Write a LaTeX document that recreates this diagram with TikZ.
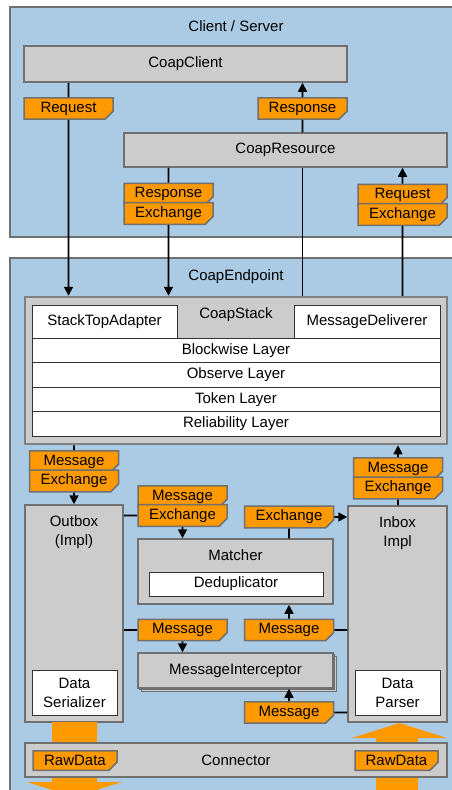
\documentclass[tikz,border=0pt]{standalone}
\usepackage{fontspec}
\setmainfont{Liberation Sans}
\usetikzlibrary{shapes.misc,shadows,arrows.meta}
\definecolor{panelblue}{RGB}{171,203,229}
\definecolor{boxgray}{RGB}{204,204,204}
\definecolor{edgegray}{RGB}{112,112,112}
\definecolor{noteorange}{RGB}{255,153,0}
\begin{document}
\begin{tikzpicture}[x=1pt,y=-1pt,font=\fontsize{15}{19}\selectfont]
\tikzstyle{panel} = [fill=panelblue, draw=edgegray, line width=1.5pt]
\tikzstyle{block} = [rectangle, fill=boxgray, draw=edgegray, line width=1.5pt, inner sep=0pt, text centered]
\tikzstyle{part} = [rectangle, fill=white, draw=black!80, line width=1pt, inner sep=0pt, align=center]
\tikzstyle{layer} = [part, minimum width=408pt, minimum height=24.5pt]
\tikzstyle{toplabel} = [anchor=north, yshift=-8pt, align=center]
\tikzstyle{note} = [chamfered rectangle, chamfered rectangle corners=south east, chamfered rectangle xsep=4pt, chamfered rectangle ysep=4pt, fill=noteorange, draw=edgegray, line width=1.5pt, minimum width=89pt, minimum height=19.5pt, inner sep=0pt, path picture={\filldraw[fill=black!20, draw=edgegray, line width=0.8pt] ([xshift=-4pt]path picture bounding box.south east) -- ([xshift=-4pt,yshift=4pt]path picture bounding box.south east) -- ([yshift=4pt]path picture bounding box.south east) -- cycle;}]
\tikzstyle{wire} = [line width=1.6pt]
\tikzstyle{arrow} = [line width=1.6pt, ->, >={Triangle[length=9pt,width=9pt]}]
\clip (0,0) rectangle (452,790);
%
% client / server
\draw [panel] (10,7) rectangle (470,237);
\node (cs) at (236,26) {Client / Server};
\node (client) [block, minimum width=323pt, minimum height=36pt] at (185.5,64) {CoapClient};
\node (resource) [block, minimum width=323pt, minimum height=34pt] at (285.5,150) {CoapResource};
\node (req) [note] at (68.5,108.5) {Request};
\node (resp) [note] at (302.5,108.5) {Response};
\node (resp2) [note] at (168.5,194) {Response};
\node (exch1) [note] at (168.5,213.5) {Exchange};
\node (req2) [note] at (402.5,195) {Request};
\node (exch2) [note] at (402.5,214.5) {Exchange};
%
% endpoint
\draw [panel] (10,258) rectangle (470,800);
\node (ep) at (236,277) {CoapEndpoint};
\node (stack) [block, draw=gray, line width=2.5pt, minimum width=422pt, minimum height=147pt] at (236,370.5) {};
\node (stacklabel) at (236,315) {CoapStack};
\node (adapter) [part, minimum width=145pt, minimum height=33pt] at (104.5,321.5) {StackTopAdapter};
\node (deliverer) [part, minimum width=146pt, minimum height=33pt] at (367,321.5) {MessageDeliverer};
\node (blockwise) [layer] at (236,350.25) {Blockwise Layer};
\node (observe) [layer] at (236,374.75) {Observe Layer};
\node (token) [layer] at (236,399.25) {Token Layer};
\node (reliability) [layer] at (236,423.75) {Reliability Layer};
%
\node (outbox) [block, minimum width=98pt, minimum height=217pt, label={[toplabel]north:Outbox\\(Impl)}] at (74,613.5) {};
\node (inbox) [block, minimum width=99pt, minimum height=216pt, label={[toplabel]north:Inbox\\Impl}] at (397.5,614) {};
\node (serializer) [part, minimum width=85pt, minimum height=45pt] at (74.5,692.5) {Data\\Serializer};
\node (parser) [part, minimum width=85pt, minimum height=45pt] at (397.5,692.5) {Data\\Parser};
\node (matcher) [block, minimum width=195pt, minimum height=65pt, label={[toplabel]north:Matcher}] at (235.5,571.5) {};
\node (dedup) [part, minimum width=174pt, minimum height=24pt] at (236,584) {Deduplicator};
\node (interceptor) [block, double copy shadow={shadow xshift=1.7pt, shadow yshift=-1.7pt}, minimum width=195pt, minimum height=35pt] at (235.5,670.5) {MessageInterceptor};
%
\node (msg1) [note] at (74,461.5) {Message};
\node (exch3) [note] at (74,481) {Exchange};
\node (msg2) [note] at (398,468.5) {Message};
\node (exch4) [note] at (398,488) {Exchange};
\node (msg3) [note] at (182.5,496.5) {Message};
\node (exch5) [note] at (182.5,515.5) {Exchange};
\node (exch6) [note] at (289,517) {Exchange};
\node (msg5) [note] at (182.5,630) {Message};
\node (msg6) [note] at (289,630) {Message};
\node (msg7) [note] at (289,712.5) {Message};
%
% raw data
\fill [noteorange] (52,722) -- (52,782) -- (27,782) -- (74.5,797) -- (122,782) -- (97,782) -- (97,722) -- cycle;
\fill [noteorange] (376,800) -- (376,738) -- (352,738) -- (399.5,723) -- (447,738) -- (418,738) -- (418,800) -- cycle;
\node (connector) [block, minimum width=422pt, minimum height=34pt] at (236,760) {Connector};
\node (raw1) [note, minimum width=84pt] at (75,760.5) {RawData};
\node (raw2) [note, minimum width=83pt] at (396.5,760.5) {RawData};
%
\draw [wire] (client.south -| req) -- (req);
\draw [arrow] (req) -- (stack.north -| req);
\draw [wire] (resource.south -| resp2) -- (resp2);
\draw [arrow] (exch1) -- (stack.north -| exch1);
\draw [wire] (stack.north -| resp) -- (resource.south -| resp);
\draw [wire] (resource.north -| resp) -- (resp);
\draw [arrow] (resp) -- (client.south -| resp);
\draw [wire] (stack.north -| req2) -- (exch2);
\draw [arrow] (req2) -- (resource.south -| req2);
%
\draw [wire] (stack.south -| msg1) -- (msg1);
\draw [arrow] (exch3) -- (outbox.north -| exch3);
\draw [wire] (inbox.north -| msg2) -- (exch4);
\draw [arrow] (msg2) -- (stack.south -| msg2);
\draw [wire] (outbox.east |- exch5) -- (exch5);
\draw [arrow] (exch5) -- (matcher.north -| exch5);
\draw [wire] (matcher.north -| exch6) -- (exch6);
\draw [arrow] (exch6) -- (inbox.west |- exch6);
\draw [wire] (outbox.east |- msg5) -- (msg5);
\draw [arrow] (msg5) -- (interceptor.north -| msg5);
\draw [wire] (inbox.west |- msg6) -- (msg6);
\draw [arrow] (msg6) -- (matcher.south -| msg6);
\draw [wire] (inbox.west |- msg7) -- (msg7);
\draw [arrow] (msg7) -- (interceptor.south -| msg7);
\end{tikzpicture}
\end{document}
